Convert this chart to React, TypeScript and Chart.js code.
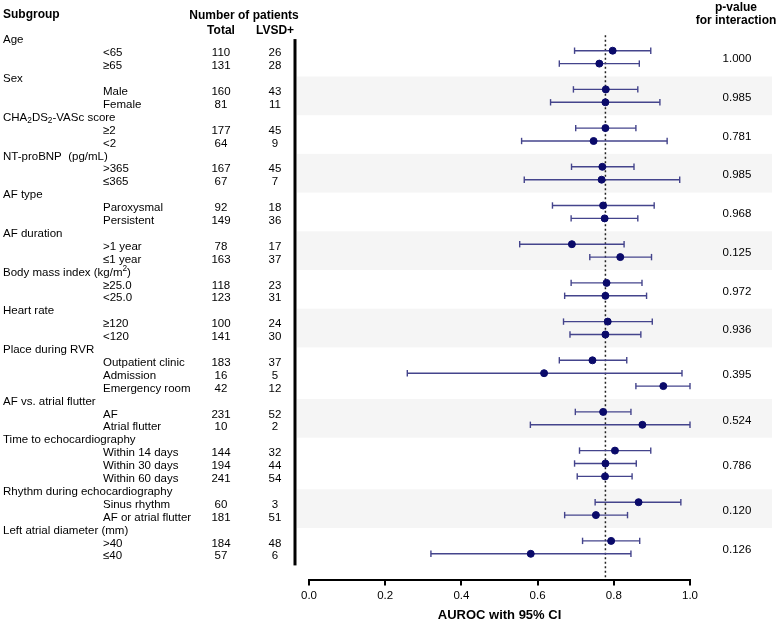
import React, { useEffect, useRef } from "react";
import { Chart, registerables } from "chart.js";

Chart.register(...registerables);

const FAMILY = '"Liberation Sans", Arial, Helvetica, sans-serif';

// ---------- data ----------
const groupLabels = [
  "Age",
  "Sex",
  "CHA_2DS_2-VASc score",
  "NT-proBNP  (pg/mL)",
  "AF type",
  "AF duration",
  "Body mass index (kg/m^2)",
  "Heart rate",
  "Place during RVR",
  "AF vs. atrial flutter",
  "Time to echocardiography",
  "Rhythm during echocardiography",
  "Left atrial diameter (mm)",
];
const groupSizes = [2, 2, 2, 2, 2, 2, 2, 2, 3, 2, 3, 2, 2];
const subgroupLabels = [
  "<65", "≥65",
  "Male", "Female",
  "≥2", "<2",
  ">365", "≤365",
  "Paroxysmal", "Persistent",
  ">1 year", "≤1 year",
  "≥25.0", "<25.0",
  "≥120", "<120",
  "Outpatient clinic", "Admission", "Emergency room",
  "AF", "Atrial flutter",
  "Within 14 days", "Within 30 days", "Within 60 days",
  "Sinus rhythm", "AF or atrial flutter",
  ">40", "≤40",
];
const totalPatients = [110, 131, 160, 81, 177, 64, 167, 67, 92, 149, 78, 163, 118, 123, 100, 141, 183, 16, 42, 231, 10, 144, 194, 241, 60, 181, 184, 57];
const lvsdPatients = [26, 28, 43, 11, 45, 9, 45, 7, 18, 36, 17, 37, 23, 31, 24, 30, 37, 5, 12, 52, 2, 32, 44, 54, 3, 51, 48, 6];
const aurocValues = [0.797, 0.762, 0.779, 0.778, 0.778, 0.747, 0.770, 0.768, 0.772, 0.776, 0.690, 0.817, 0.781, 0.778, 0.784, 0.778, 0.744, 0.617, 0.930, 0.772, 0.875, 0.803, 0.778, 0.777, 0.865, 0.753, 0.793, 0.582];
const ciLower = [0.697, 0.657, 0.694, 0.634, 0.700, 0.558, 0.689, 0.565, 0.639, 0.688, 0.553, 0.737, 0.688, 0.671, 0.668, 0.685, 0.657, 0.258, 0.858, 0.699, 0.581, 0.710, 0.697, 0.704, 0.751, 0.671, 0.718, 0.320];
const ciUpper = [0.897, 0.867, 0.863, 0.921, 0.858, 0.940, 0.853, 0.973, 0.906, 0.863, 0.827, 0.899, 0.874, 0.886, 0.901, 0.871, 0.834, 0.979, 1.000, 0.845, 1.000, 0.897, 0.859, 0.848, 0.976, 0.836, 0.868, 0.845];
const pInteraction = ["1.000", "0.985", "0.781", "0.985", "0.968", "0.125", "0.972", "0.936", "0.395", "0.524", "0.786", "0.120", "0.126"];
const referenceAuroc = 0.778;
const xTickValues = [0, 0.2, 0.4, 0.6, 0.8, 1.0];
const xAxisTitle = "AUROC with 95% CI";

// ---------- row layout (row index units) ----------
const headerRows: number[] = [];
const subRows: number[] = [];
const subGroupOf: number[] = [];
let rowCounter = 0;
groupSizes.forEach((n, g) => {
  headerRows.push(rowCounter);
  rowCounter++;
  for (let k = 0; k < n; k++) {
    subRows.push(rowCounter);
    subGroupOf.push(g);
    rowCounter++;
  }
});
const totalRows = rowCounter;

const POINT_COLOR = "#0a0a6a";
const CI_COLOR = "#44448c";

function drawRich(ctx: CanvasRenderingContext2D, s: string, x: number, y: number, size: number) {
  const segs: { t: string; mode: number }[] = [];
  for (let i = 0; i < s.length; i++) {
    let ch = s[i];
    let mode = 0;
    if ((ch === "_" || ch === "^") && i + 1 < s.length) {
      mode = ch === "_" ? 1 : -1;
      ch = s[++i];
    }
    const last = segs[segs.length - 1];
    if (last && last.mode === mode) last.t += ch;
    else segs.push({ t: ch, mode });
  }
  let cx = x;
  ctx.textAlign = "left";
  for (const seg of segs) {
    const sz = seg.mode === 0 ? size : size * 0.72;
    ctx.font = `${sz}px ${FAMILY}`;
    ctx.fillText(seg.t, cx, y + seg.mode * size * 0.3);
    cx += ctx.measureText(seg.t).width;
  }
}

const forestPlugin = {
  id: "forestDecor",
  beforeDatasetsDraw(chart: any) {
    const { ctx, chartArea } = chart;
    const x = chart.scales.x;
    const y = chart.scales.y;
    ctx.save();
    // alternating bands
    ctx.fillStyle = "#f5f5f5";
    const bandLeft = chartArea.left - 12;
    const bandRight = chart.width - 5;
    groupLabels.forEach((_, g) => {
      if (g % 2 === 1) {
        const top = y.getPixelForValue(headerRows[g]);
        const next = g + 1 < headerRows.length ? headerRows[g + 1] : totalRows;
        const bottom = y.getPixelForValue(next);
        ctx.fillRect(bandLeft, top, bandRight - bandLeft, bottom - top);
      }
    });
    // black divider
    ctx.fillStyle = "#000";
    const dx = chartArea.left - 14;
    const t = y.getPixelForValue(0.1);
    const b = y.getPixelForValue(totalRows - 0.1);
    ctx.fillRect(dx - 1.5, t, 3, b - t);
    // dotted reference line
    const rx = x.getPixelForValue(referenceAuroc);
    ctx.strokeStyle = "#222";
    ctx.lineWidth = 1.5;
    ctx.setLineDash([2, 2.5]);
    ctx.beginPath();
    ctx.moveTo(rx, y.getPixelForValue(-0.2));
    ctx.lineTo(rx, chartArea.bottom);
    ctx.stroke();
    ctx.restore();
  },
  afterDraw(chart: any) {
    const { ctx } = chart;
    const y = chart.scales.y;
    const size = 11.5;
    ctx.save();
    ctx.fillStyle = "#000";
    ctx.textBaseline = "middle";
    // headers
    ctx.font = `bold 12px ${FAMILY}`;
    ctx.textAlign = "left";
    ctx.fillText("Subgroup", 3, 15);
    ctx.textAlign = "center";
    ctx.fillText("Number of patients", 244, 16);
    ctx.fillText("Total", 221, 31);
    ctx.fillText("LVSD+", 275, 31);
    ctx.fillText("p-value", 736, 8);
    ctx.fillText("for interaction", 736, 21);
    // group labels
    groupLabels.forEach((lab, g) => {
      drawRich(ctx, lab, 3, y.getPixelForValue(headerRows[g]) + 2.5, size);
    });
    // subgroup rows
    ctx.font = `${size}px ${FAMILY}`;
    subgroupLabels.forEach((lab, i) => {
      const py = y.getPixelForValue(subRows[i]) + 2.5;
      ctx.textAlign = "left";
      ctx.fillText(lab, 103, py);
      ctx.textAlign = "center";
      ctx.fillText(String(totalPatients[i]), 221, py);
      ctx.fillText(String(lvsdPatients[i]), 275, py);
    });
    // p-values at group centre
    ctx.textAlign = "center";
    pInteraction.forEach((p, g) => {
      const rows = subRows.filter((_, i) => subGroupOf[i] === g);
      const mid = (rows[0] + rows[rows.length - 1]) / 2;
      ctx.fillText(p, 737, y.getPixelForValue(mid) + 2);
    });
    ctx.restore();
  },
};

export default function App() {
  const canvasRef = useRef<HTMLCanvasElement | null>(null);

  useEffect(() => {
    const canvas = canvasRef.current;
    if (!canvas) return;

    const pointDataset = {
      label: "AUROC",
      data: aurocValues.map((v, i) => ({ x: v, y: subRows[i] })),
      showLine: false,
      pointRadius: 3.5,
      pointHoverRadius: 3.5,
      pointBackgroundColor: POINT_COLOR,
      pointBorderColor: POINT_COLOR,
      pointBorderWidth: 1,
      clip: false,
    };
    const ciDatasets = subRows.map((r, i) => ({
      label: "CI " + subgroupLabels[i],
      data: [
        { x: ciLower[i], y: r },
        { x: ciUpper[i], y: r },
      ],
      showLine: true,
      borderColor: CI_COLOR,
      borderWidth: 1.4,
      pointStyle: "line",
      pointRotation: 90,
      pointRadius: 3.2,
      pointHoverRadius: 3.2,
      pointBorderColor: CI_COLOR,
      pointBorderWidth: 1.4,
      clip: false,
    }));

    const chart = new Chart(canvas, {
      type: "scatter",
      data: { datasets: [pointDataset, ...ciDatasets] as any },
      options: {
        animation: false,
        responsive: false,
        events: [],
        layout: { padding: { left: 309, right: 87, top: 12, bottom: -2 } },
        plugins: { legend: { display: false }, tooltip: { enabled: false } },
        scales: {
          x: {
            type: "linear",
            position: "bottom",
            min: 0,
            max: 1,
            afterBuildTicks: (scale: any) => {
              scale.ticks = xTickValues.map((v) => ({ value: v }));
            },
            ticks: {
              color: "#000",
              font: { family: FAMILY, size: 11.5 },
              padding: 3,
              callback: (v: any) => Number(v).toFixed(1),
            },
            grid: {
              drawOnChartArea: false,
              drawTicks: true,
              tickLength: 6,
              color: "#000",
              lineWidth: 2,
            },
            border: { display: true, color: "#000", width: 2 },
            title: {
              display: true,
              text: xAxisTitle,
              color: "#000",
              font: { family: FAMILY, size: 13, weight: "bold" },
              padding: { top: 2, bottom: 0 },
            },
          },
          y: {
            type: "linear",
            reverse: true,
            min: -2,
            max: 42,
            display: false,
          },
        },
      },
      plugins: [forestPlugin],
    });

    return () => chart.destroy();
  }, []);

  return (
    <div style={{ position: "absolute", left: 0, top: 0, width: 777, height: 621, background: "#fff" }}>
      <canvas ref={canvasRef} width={777} height={621} style={{ display: "block" }} />
    </div>
  );
}
